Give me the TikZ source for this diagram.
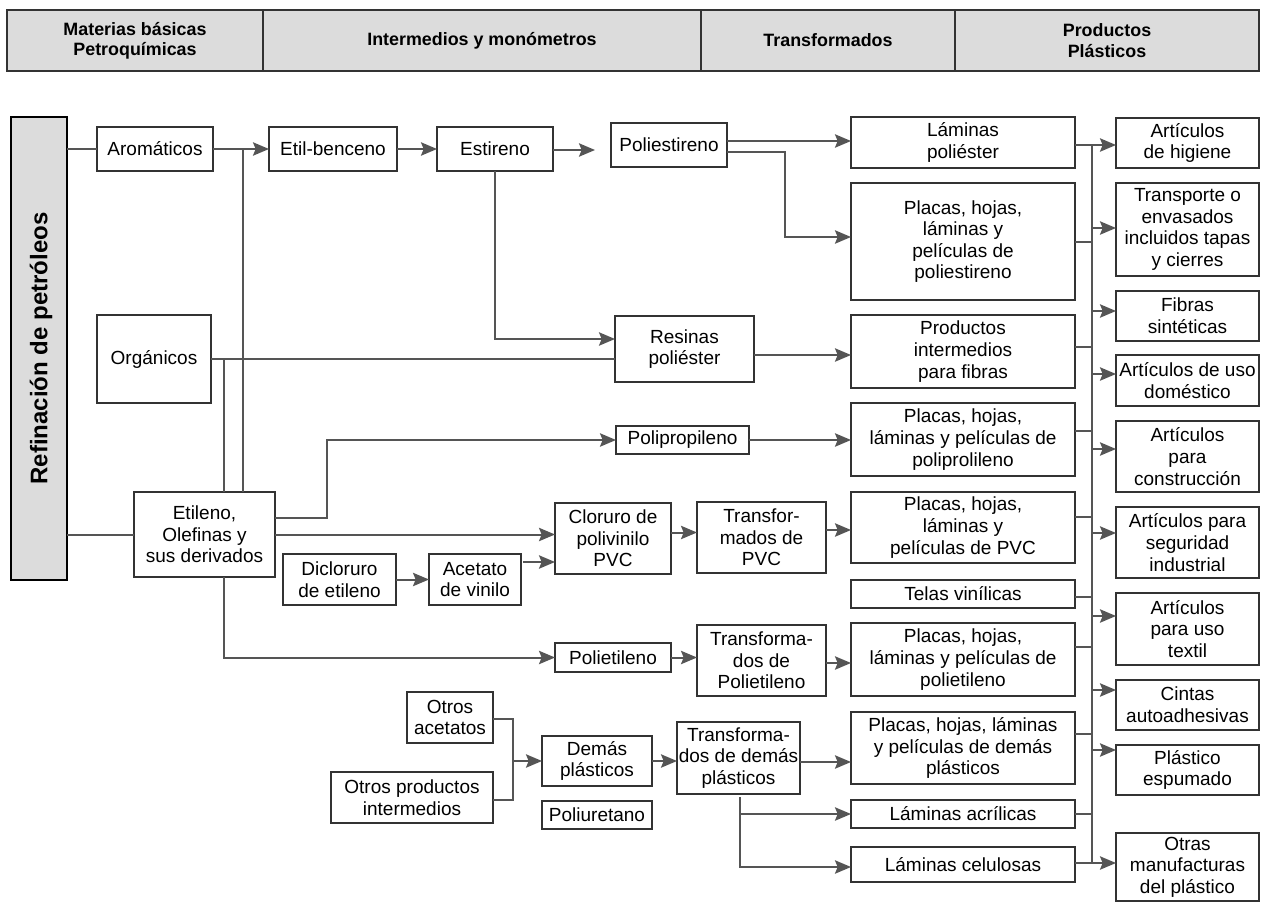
\documentclass[tikz,border=0pt]{standalone}
\usepackage{fontspec}
\setmainfont{Liberation Sans}
\usetikzlibrary{arrows.meta,calc}
\definecolor{lnc}{HTML}{555555}
\definecolor{bdc}{HTML}{333333}
\definecolor{hdrfill}{HTML}{DCDCDC}
\tikzset{
  bx/.style={draw=bdc, line width=1.1pt, fill=white, inner sep=0pt, outer sep=0pt, align=center, font=\fontsize{14.25}{16.2}\selectfont},
  hdr/.style={draw=bdc, line width=1.5pt, fill=hdrfill, inner sep=0pt, outer sep=0pt, align=center, font=\fontsize{13.4}{15.2}\selectfont\bfseries},
  ln/.style={draw=lnc, line width=1.5pt},
  arr/.style={ln, -{Stealth[length=12pt,width=10pt,inset=2pt]}},
}
\newcommand{\bx}[6]{\node[bx, minimum width={(#4-#2)*0.75pt}, minimum height={(#5-#3)*0.75pt}] (#1) at ({(#2+#4)/2},{(#3+#5)/2}) {#6};}
\newcommand{\hd}[6]{\node[hdr, minimum width={(#4-#2)*0.75pt}, minimum height={(#5-#3)*0.75pt}] (#1) at ({(#2+#4)/2},{(#3+#5)/2}) {#6};}
\newcommand{\busin}[2]{\coordinate (tmpc) at ($(#1.east)+(0,#2)$); \draw[ln] (tmpc) -- (tmpc -| bt);}
\newcommand{\busout}[2]{\coordinate (tmpc) at ($(#1.west)+(0,#2)$); \draw[arr] (tmpc -| bt) -- (tmpc);}
\begin{document}
\begin{tikzpicture}[x=0.75pt,y=-0.75pt]
\useasboundingbox (0,0) rectangle (1261,903);
% header
\hd{h1}{7}{10}{263}{71}{Materias básicas\\Petroquímicas}
\hd{h2}{263}{10}{701}{71}{Intermedios y monómetros}
\hd{h3}{701}{10}{955}{71}{Transformados}
\hd{h4}{955}{10}{1259}{71}{Productos\\Plásticos}
% refinacion
\node[draw=black, line width=1.5pt, fill=hdrfill, inner sep=0pt, outer sep=0pt, minimum width={56*0.75pt}, minimum height={463*0.75pt}] (ref) at (39,348.5) {};
\node[rotate=90, font=\fontsize{18}{20}\selectfont\bfseries, inner sep=0pt] (reftxt) at (41,348.5) {Refinación de petróleos};
% middle boxes
\bx{aro}{97}{127}{213}{171}{Aromáticos}
\bx{etb}{269}{127}{397}{171}{Etil-benceno}
\bx{est}{437}{127}{553}{171}{Estireno}
\bx{pst}{611}{123}{727}{167}{Poliestireno}
\bx{org}{97}{315}{211}{403}{Orgánicos}
\bx{res}{615}{316}{754}{382}{Resinas\\poliéster}
\bx{eti}{134}{492}{275}{577}{Etileno,\\Olefinas y\\sus derivados}
\bx{ppl}{616}{426}{749}{454}{Polipropileno}
\bx{clo}{555}{503}{671}{574}{Cloruro de\\polivinilo\\PVC}
\bx{tpvc}{697}{502}{826}{573}{Transfor-\\mados de\\PVC}
\bx{dic}{283}{554}{396}{605}{Dicloruro\\de etileno}
\bx{ace}{429}{554}{521}{605}{Acetato\\de vinilo}
\bx{pet}{555}{643}{671}{672}{Polietileno}
\bx{tpe}{697}{625}{826}{696}{Transforma-\\dos de\\Polietileno}
\bx{oac}{407}{692}{493}{743}{Otros\\acetatos}
\bx{opi}{331}{772}{493}{823}{Otros productos\\intermedios}
\bx{dem}{542}{736}{652}{786}{Demás\\plásticos}
\bx{pur}{542}{801}{652}{829}{Poliuretano}
\bx{tdp}{677}{722}{800}{794}{Transforma-\\dos de demás\\plásticos}
% transformados
\bx{lpo}{851}{117}{1075}{168}{Láminas\\poliéster}
\bx{pps}{851}{183}{1075}{300}{Placas, hojas,\\láminas y\\películas de\\poliestireno}
\bx{pin}{851}{315}{1075}{388}{Productos\\intermedios\\para fibras}
\bx{ppp}{851}{403}{1075}{476}{Placas, hojas,\\láminas y películas de\\poliprolileno}
\bx{ppv}{851}{492}{1075}{563}{Placas, hojas,\\láminas y\\películas de PVC}
\bx{tel}{851}{580}{1075}{608}{Telas vinílicas}
\bx{ppe}{851}{623}{1075}{696}{Placas, hojas,\\láminas y películas de\\polietileno}
\bx{ppd}{851}{712}{1075}{784}{Placas, hojas, láminas\\y películas de demás\\plásticos}
\bx{lac}{851}{800}{1075}{828}{Láminas acrílicas}
\bx{lce}{851}{847}{1075}{882}{Láminas celulosas}
% productos
\bx{hig}{1116}{118}{1259}{168}{Artículos\\de higiene}
\bx{tra}{1116}{183}{1259}{276}{Transporte o\\envasados\\incluidos tapas\\y cierres}
\bx{fib}{1116}{291}{1259}{341}{Fibras\\sintéticas}
\bx{dom}{1116}{355}{1259}{406}{Artículos de uso\\doméstico}
\bx{con}{1116}{421}{1259}{492}{Artículos\\para\\construcción}
\bx{seg}{1116}{507}{1259}{578}{Artículos para\\seguridad\\industrial}
\bx{tex}{1116}{593}{1259}{665}{Artículos\\para uso\\textil}
\bx{cin}{1116}{680}{1259}{730}{Cintas\\autoadhesivas}
\bx{esp}{1116}{745}{1259}{795}{Plástico\\espumado}
\bx{otr}{1116}{833}{1259}{901}{Otras\\manufacturas\\del plástico}
% connectors: left part
\draw[ln] (ref.east |- aro.west) -- (aro.west);
\draw[ln] (ref.east |- eti.west) -- (eti.west);
\draw[arr] (aro.east) -- (etb.west);
\coordinate (e1) at ($(eti.north)+(38.5,0)$);
\draw[ln] (e1) -- (e1 |- aro.east);
\coordinate (e2) at ($(eti.north)+(19.5,0)$);
\draw[ln] (e2) -- (e2 |- org.east);
\draw[ln] (org.east) -- (org.east -| res.west);
\draw[arr] (etb.east) -- (est.west);
\coordinate (estend) at (595,150);
\draw[arr] ($(est.east)+(0,1)$) -- (estend);
\draw[arr] (est.south) |- ($(res.west)+(0,-10)$);
\coordinate (c3) at ($(res.east)+(0,6)$);
\draw[arr] (c3) -- (c3 -| pin.west);
\coordinate (c1) at ($(pst.east)+(0,-4)$);
\draw[arr] (c1) -- (c1 -| lpo.west);
\coordinate (c2) at ($(pst.east)+(0,7)$);
\draw[arr] (c2) -- ++(58,0) |- ($(pps.west)+(0,-4.5)$);
\draw[arr] ($(eti.east)+(0,-16.5)$) -- ++(52,0) |- (ppl.west);
\draw[arr] (eti.east) -- (eti.east -| clo.west);
\coordinate (e3) at ($(eti.south)+(19.5,0)$);
\draw[arr] (e3) |- (pet.west);
\draw[arr] (dic.east) -- (ace.west);
\coordinate (a1) at ($(ace.east)+(2,-17.5)$);
\draw[arr] (a1) -- (a1 -| clo.west);
\coordinate (c5) at ($(clo.east)+(0,-6)$);
\draw[arr] (c5) -- (c5 -| tpvc.west);
\coordinate (c4) at ($(tpvc.east)+(0,-7.5)$);
\draw[arr] (c4) -- (c4 -| ppv.west);
\draw[arr] (ppl.east) -- (ppl.east -| ppp.west);
\draw[arr] (pet.east) -- (pet.east -| tpe.west);
\coordinate (c6) at ($(tpe.east)+(0,2.5)$);
\draw[arr] (c6) -- (c6 -| ppe.west);
\coordinate (j) at ($(oac.east)+(20,1.5)$);
\draw[ln] ($(oac.east)+(0,1.5)$) -- (j) |- ($(opi.east)+(0,2.5)$);
\draw[arr] (j |- dem.west) -- (dem.west);
\draw[arr] (dem.east) -- (dem.east -| tdp.west);
\coordinate (c7) at ($(tdp.east)+(0,4)$);
\draw[arr] (c7) -- (c7 -| ppd.west);
\coordinate (td0) at ($(tdp.south)+(1.5,3)$);
\draw[arr] (td0) |- (lac.west);
\draw[arr] (td0) |- ($(lce.west)+(0,2.5)$);
% bus
\coordinate (bt) at (1092,145);
\coordinate (bb) at (1092,863);
\draw[ln] (bt) -- (bb);
\busin{lpo}{2.5}
\busin{pps}{0}
\busin{pin}{-4.5}
\busin{ppp}{-8.5}
\busin{ppv}{-10.5}
\busin{tel}{3}
\busin{ppe}{-12.5}
\busin{ppd}{-14}
\busin{lac}{0}
\busin{lce}{-1.5}
\busout{hig}{2}
\busout{tra}{-1.5}
\busout{fib}{-5}
\busout{dom}{-6.5}
\busout{con}{-7.5}
\busout{seg}{-9.5}
\busout{tex}{-13}
\busout{cin}{-15}
\busout{esp}{-20}
\busout{otr}{-4}
\end{tikzpicture}
\end{document}
